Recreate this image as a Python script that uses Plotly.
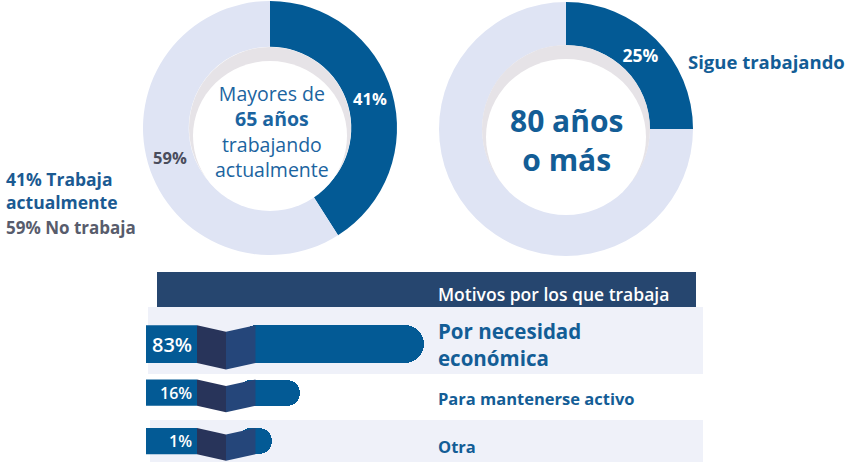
import plotly.graph_objects as go

# ---------------- data ----------------
DONUT1_LABELS = ["Trabaja actualmente", "No trabaja"]
DONUT1_VALUES = [41, 59]
DONUT2_LABELS = ["Sigue trabajando", "No trabaja"]
DONUT2_VALUES = [25, 75]
REASONS = ["Por necesidad<br>económica", "Para mantenerse activo", "Otra"]
REASON_VALUES = [83, 16, 1]

# ---------------- style ----------------
W, H = 847, 462
FONT = "Open Sans"
DARK = "#035a95"
LIGHT = "#dfe4f4"
NAVY = "#26466f"
RIB_DARK = "#28345a"
RIB_MID = "#25467a"
ROW_BG = "#eff1f9"
TXT_BLUE = "#135d96"
TXT_GREY = "#585c6c"

PX_PER_UNIT = 1.85
ZERO_PX = 270.5
BAR_BASE = (238 - ZERO_PX) / PX_PER_UNIT   # bar starts hidden under the ribbon
ROW0_PX, ROW_STEP = 344.2, 48.5
BAR_WIDTHS = [0.78, 0.54, 0.54]
PCT_SIZES = [20, 16, 16]
REASON_SIZES = [20.5, 16.5, 16.5]
REASON_SHIFT = [0, -6, -5]


def px(x):
    return x / W


def py(y):
    return 1 - y / H


fig = go.Figure()

# bars (drawn first, ribbons are shapes above)
n = len(REASON_VALUES)
fig.add_trace(go.Bar(
    y=list(range(n)), x=[v - BAR_BASE for v in REASON_VALUES], base=BAR_BASE,
    orientation="h", width=BAR_WIDTHS, marker=dict(color=DARK, line=dict(width=0), cornerradius="50%"),
    hoverinfo="skip", showlegend=False, xaxis="x", yaxis="y"))

# donuts
def donut(values, labels, cx, cy, r, hole, templates, colors, size):
    fig.add_trace(go.Pie(
        values=values, labels=labels, sort=False, direction="clockwise", rotation=0,
        hole=hole, marker=dict(colors=[DARK, LIGHT], line=dict(width=0)),
        domain=dict(x=[px(cx - r), px(cx + r)], y=[py(cy + r), py(cy - r)]),
        texttemplate=templates, textposition="inside", insidetextorientation="horizontal",
        textfont=dict(family=FONT, size=size, color=colors, weight="bold"),
        hoverinfo="skip", showlegend=False))

donut(DONUT1_VALUES, DONUT1_LABELS, 270, 128, 127, 0.64,
      ["%{percent}", "%{percent}"], ["white", "#4a4d5c"], 16.5)
donut(DONUT2_VALUES, DONUT2_LABELS, 566, 129, 127, 0.66,
      ["%{percent}", ""], ["white", "white"], 18.5)

x_min = -ZERO_PX / PX_PER_UNIT
x_max = (W - ZERO_PX) / PX_PER_UNIT
y_top = -ROW0_PX / ROW_STEP
y_bot = (H - ROW0_PX) / ROW_STEP

shapes = []
# header & row backgrounds
shapes.append(dict(type="rect", xref="paper", yref="paper", x0=px(157), x1=px(696), y0=py(307), y1=py(272),
                   fillcolor=NAVY, line=dict(width=0), layer="below"))
shapes.append(dict(type="rect", xref="paper", yref="paper", x0=px(148), x1=px(703), y0=py(374), y1=py(307),
                   fillcolor=ROW_BG, line=dict(width=0), layer="below"))
shapes.append(dict(type="rect", xref="paper", yref="paper", x0=px(150), x1=px(703), y0=py(462), y1=py(420),
                   fillcolor=ROW_BG, line=dict(width=0), layer="below"))

# hole shading
for cx, cy, hr in [(270, 128, 81), (566, 129, 84)]:
    shapes.append(dict(type="circle", xref="paper", yref="paper", x0=px(cx - hr), x1=px(cx + hr),
                       y0=py(cy + hr), y1=py(cy - hr), fillcolor="#e6e3e7", line=dict(width=0)))
    shapes.append(dict(type="circle", xref="paper", yref="paper", x0=px(cx - hr + 4), x1=px(cx + hr - 4),
                       y0=py(cy + hr + 2), y1=py(cy - hr + 14), fillcolor="white", line=dict(width=0)))

# label boxes and folded ribbons per row
drop = 6.5 / ROW_STEP
for i, w in enumerate(BAR_WIDTHS):
    h = w / 2
    t, b = i - h, i + h
    shapes.append(dict(type="rect", xref="paper", yref="y", x0=px(146), x1=px(197), y0=t, y1=b,
                       fillcolor=DARK, line=dict(width=0)))
    shapes.append(dict(type="path", xref="paper", yref="y",
                       path=f"M{px(197)},{t} L{px(226)},{t + drop} L{px(226)},{b + drop} L{px(197)},{b} Z",
                       fillcolor=RIB_DARK, line=dict(width=0)))
    shapes.append(dict(type="path", xref="paper", yref="y",
                       path=f"M{px(226)},{t + drop} L{px(255.5)},{t} L{px(255.5)},{b} L{px(226)},{b + drop} Z",
                       fillcolor=RIB_MID, line=dict(width=0)))

annotations = []
# percentages & reasons
for i, (v, r) in enumerate(zip(REASON_VALUES, REASONS)):
    annotations.append(dict(xref="paper", yref="y", x=px(194), y=i, xanchor="right", yanchor="middle",
                            text=f"{v}%", showarrow=False,
                            font=dict(family=FONT, size=PCT_SIZES[i], color="white", weight=600)))
    annotations.append(dict(xref="paper", yref="y", x=px(436), y=i, xanchor="left", yanchor="middle",
                            text=f"<b>{r}</b>", showarrow=False, align="left", yshift=REASON_SHIFT[i],
                            font=dict(family=FONT, size=REASON_SIZES[i], color=TXT_BLUE)))

def txt(x, y, text, size, color, anchor="center", weight="normal"):
    annotations.append(dict(xref="paper", yref="paper", x=px(x), y=py(y), xanchor=anchor, yanchor="middle",
                            text=text, showarrow=False, align=anchor if anchor != "center" else "center",
                            font=dict(family=FONT, size=size, color=color, weight=weight)))

txt(436, 294, "Motivos por los que trabaja", 17.5, "white", "left", 600)
txt(272, 131.5, "Mayores de<br><b>65 años</b><br>trabajando<br>actualmente", 19.5, "#1b64a0")
txt(566, 140, "<b>80 años<br>o más</b>", 30, TXT_BLUE)
txt(686, 61, "<b>Sigue trabajando</b>", 18.5, TXT_BLUE, "left")
txt(4, 190.5, "<b>41% Trabaja<br>actualmente</b>", 17.5, "#1b5a92", "left")
txt(4, 228, "<b>59% No trabaja</b>", 17, TXT_GREY, "left")

fig.update_layout(
    width=W, height=H, margin=dict(l=0, r=0, t=0, b=0),
    paper_bgcolor="white", plot_bgcolor="rgba(0,0,0,0)",
    xaxis=dict(domain=[0, 1], range=[x_min, x_max], visible=False, fixedrange=True),
    yaxis=dict(domain=[0, 1], range=[y_bot, y_top], visible=False, fixedrange=True),
    shapes=shapes, annotations=annotations, bargap=0,
)

fig.write_html("out.html", config={"displayModeBar": False},
               post_script="document.body.style.margin='0';document.body.style.overflow='hidden';")
